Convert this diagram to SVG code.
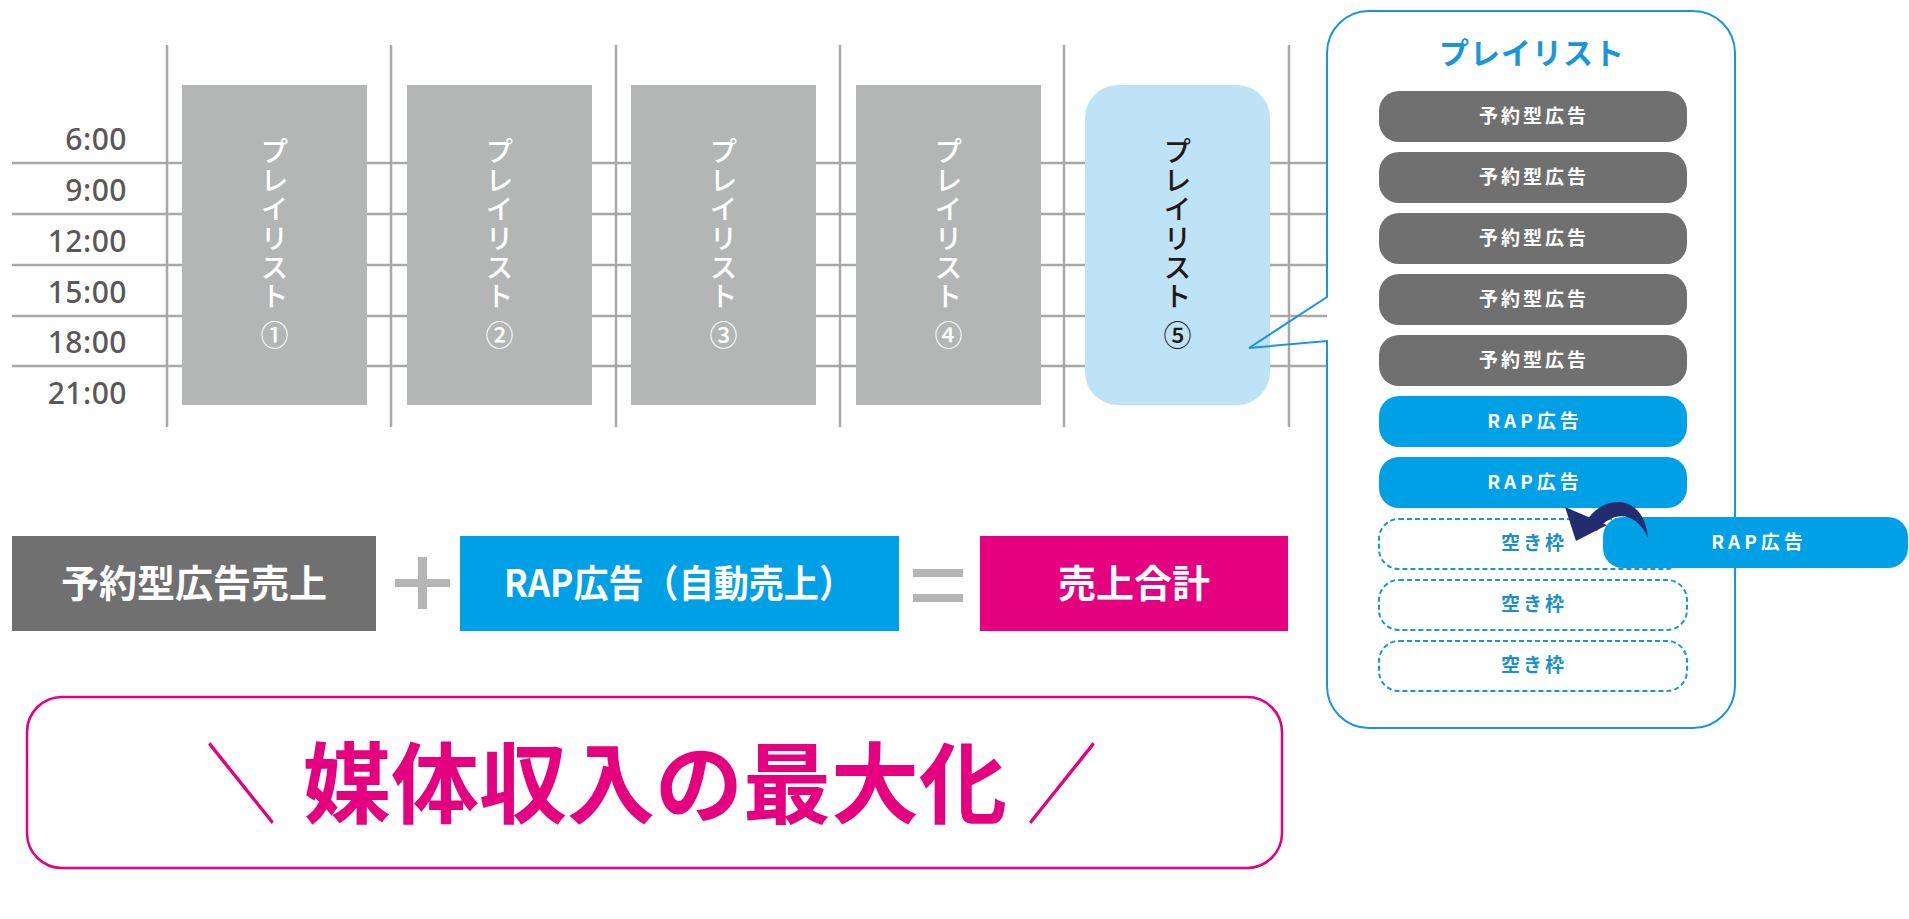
<svg xmlns="http://www.w3.org/2000/svg" width="1909" height="919" viewBox="0 0 1909 919">
<style>
.grid{stroke:#a8a8a8;stroke-width:2.5;fill:none}
.time{font-family:"Noto Sans","Liberation Sans",sans-serif;font-size:30px;font-weight:500;fill:#595757;text-anchor:end;letter-spacing:0.5px}
.vt{font-family:"Noto Sans CJK JP",sans-serif;font-size:28px;font-weight:500;writing-mode:vertical-rl;letter-spacing:1px}
.pl{fill:#b4b5b5}
.pill-g{fill:#717071}
.pill-b{fill:#00a0e6}
.pill-e{fill:#ffffff;stroke:#1a96d8;stroke-width:2;stroke-dasharray:5 3}
.pt{font-family:"Noto Sans CJK JP",sans-serif;font-size:19px;font-weight:700;fill:#ffffff;text-anchor:middle}
.pe{font-family:"Noto Sans CJK JP",sans-serif;font-size:19px;font-weight:700;fill:#1a8fd0;text-anchor:middle;letter-spacing:3px}
.big{font-family:"Noto Sans CJK JP",sans-serif;font-size:38px;font-weight:700;fill:#ffffff;text-anchor:middle}
.hero{font-family:"Noto Sans CJK JP",sans-serif;font-size:88px;fill:#e4007f;text-anchor:middle}
</style>

<g id="grid">
<line class="grid" x1="12" y1="163" x2="1327" y2="163"/>
<line class="grid" x1="12" y1="214" x2="1327" y2="214"/>
<line class="grid" x1="12" y1="265" x2="1327" y2="265"/>
<line class="grid" x1="12" y1="316" x2="1327" y2="316"/>
<line class="grid" x1="12" y1="366" x2="1327" y2="366"/>
<line class="grid" x1="167" y1="45" x2="167" y2="427"/>
<line class="grid" x1="391" y1="45" x2="391" y2="427"/>
<line class="grid" x1="616" y1="45" x2="616" y2="427"/>
<line class="grid" x1="840" y1="45" x2="840" y2="427"/>
<line class="grid" x1="1064" y1="45" x2="1064" y2="427"/>
<line class="grid" x1="1289" y1="45" x2="1289" y2="427"/>
</g>

<g id="times">
<text class="time" x="127" y="150">6:00</text>
<text class="time" x="127" y="201">9:00</text>
<text class="time" x="127" y="252">12:00</text>
<text class="time" x="127" y="303">15:00</text>
<text class="time" x="127" y="353">18:00</text>
<text class="time" x="127" y="404">21:00</text>
</g>

<g id="playlist1">
<rect class="pl" x="182" y="85" width="185" height="320"/>
<text class="vt" fill="#ffffff" x="274.5" y="137">プレイリスト<tspan y="321">①</tspan></text>
</g>
<g id="playlist2">
<rect class="pl" x="407" y="85" width="185" height="320"/>
<text class="vt" fill="#ffffff" x="499.5" y="137">プレイリスト<tspan y="321">②</tspan></text>
</g>
<g id="playlist3">
<rect class="pl" x="631" y="85" width="185" height="320"/>
<text class="vt" fill="#ffffff" x="723.5" y="137">プレイリスト<tspan y="321">③</tspan></text>
</g>
<g id="playlist4">
<rect class="pl" x="856" y="85" width="185" height="320"/>
<text class="vt" fill="#ffffff" x="948.5" y="137">プレイリスト<tspan y="321">④</tspan></text>
</g>
<g id="playlist5">
<rect x="1085" y="85" width="185" height="320" rx="33" fill="#bee3f7"/>
<text class="vt" fill="#231815" x="1177.5" y="137">プレイリスト<tspan y="321">⑤</tspan></text>
</g>

<g id="callout">
<path d="M1327,297 L1327,53 A42,42 0 0 1 1369,11 L1693,11 A42,42 0 0 1 1735,53 L1735,686 A42,42 0 0 1 1693,728 L1369,728 A42,42 0 0 1 1327,686 L1327,341 L1249,348 Z" fill="none" stroke="#1a96d8" stroke-width="2"/>
<text x="1532" y="64" font-family="'Noto Sans CJK JP',sans-serif" font-size="30" font-weight="700" fill="#1a96d8" text-anchor="middle" letter-spacing="1">プレイリスト</text>
</g>

<g id="slot1"><rect class="pill-g" x="1379" y="91" width="308" height="51" rx="20"/><text class="pt" x="1534" y="123" letter-spacing="3">予約型広告</text></g>
<g id="slot2"><rect class="pill-g" x="1379" y="152" width="308" height="51" rx="20"/><text class="pt" x="1534" y="184" letter-spacing="3">予約型広告</text></g>
<g id="slot3"><rect class="pill-g" x="1379" y="213" width="308" height="51" rx="20"/><text class="pt" x="1534" y="245" letter-spacing="3">予約型広告</text></g>
<g id="slot4"><rect class="pill-g" x="1379" y="274" width="308" height="51" rx="20"/><text class="pt" x="1534" y="306" letter-spacing="3">予約型広告</text></g>
<g id="slot5"><rect class="pill-g" x="1379" y="335" width="308" height="51" rx="20"/><text class="pt" x="1534" y="367" letter-spacing="3">予約型広告</text></g>
<g id="slot6"><rect class="pill-b" x="1379" y="396" width="308" height="51" rx="20"/><text class="pt" x="1535" y="428" letter-spacing="4">RAP広告</text></g>
<g id="slot7"><rect class="pill-b" x="1379" y="457" width="308" height="51" rx="20"/><text class="pt" x="1535" y="489" letter-spacing="4">RAP広告</text></g>
<g id="slot8"><rect class="pill-e" x="1379" y="519" width="308" height="50" rx="20"/><text class="pe" x="1534" y="550">空き枠</text></g>
<g id="slot9"><rect class="pill-e" x="1379" y="580" width="308" height="50" rx="20"/><text class="pe" x="1534" y="611">空き枠</text></g>
<g id="slot10"><rect class="pill-e" x="1379" y="641" width="308" height="50" rx="20"/><text class="pe" x="1534" y="672">空き枠</text></g>

<g id="incoming-rap">
<rect class="pill-b" x="1603" y="517" width="305" height="51" rx="20"/>
<text class="pt" x="1759" y="549" letter-spacing="4">RAP広告</text>
</g>

<g id="connectors">
<path d="M1586,522 C1602,494 1644,492 1648,538 C1636,511 1612,510 1597,531 Z" fill="#232c6e"/>
<polygon points="1565,507 1576,541 1607,525" fill="#232c6e"/>
</g>

<g id="sales-reserved">
<rect x="12" y="536" width="364" height="95" fill="#717071"/>
<text class="big" x="194" y="597">予約型広告売上</text>
</g>
<g id="plus">
<rect x="395" y="579" width="55" height="8" fill="#b5b5b5"/>
<rect x="418" y="557" width="9" height="52" fill="#b5b5b5"/>
</g>
<g id="sales-rap">
<rect x="460" y="536" width="439" height="95" fill="#00a0e6"/>
<text class="big" x="679" y="597" textLength="350" lengthAdjust="spacingAndGlyphs">RAP広告（自動売上）</text>
</g>
<g id="equals">
<rect x="913" y="569" width="50" height="8" fill="#b5b5b5"/>
<rect x="913" y="594" width="50" height="8" fill="#b5b5b5"/>
</g>
<g id="sales-total">
<rect x="980" y="536" width="308" height="95" fill="#e4007f"/>
<text class="big" x="1134" y="597">売上合計</text>
</g>

<g id="result">
<rect x="27" y="697" width="1255" height="171" rx="35" fill="none" stroke="#e4007f" stroke-width="2.5"/>
<text class="hero" transform="translate(241,0) scale(0.8,1)" x="0" y="816" font-weight="400">＼</text>
<text class="hero" x="655" y="816" font-weight="700">媒体収入の最大化</text>
<text class="hero" transform="translate(1062,0) scale(0.8,1)" x="0" y="816" font-weight="400">／</text>
</g>
</svg>
